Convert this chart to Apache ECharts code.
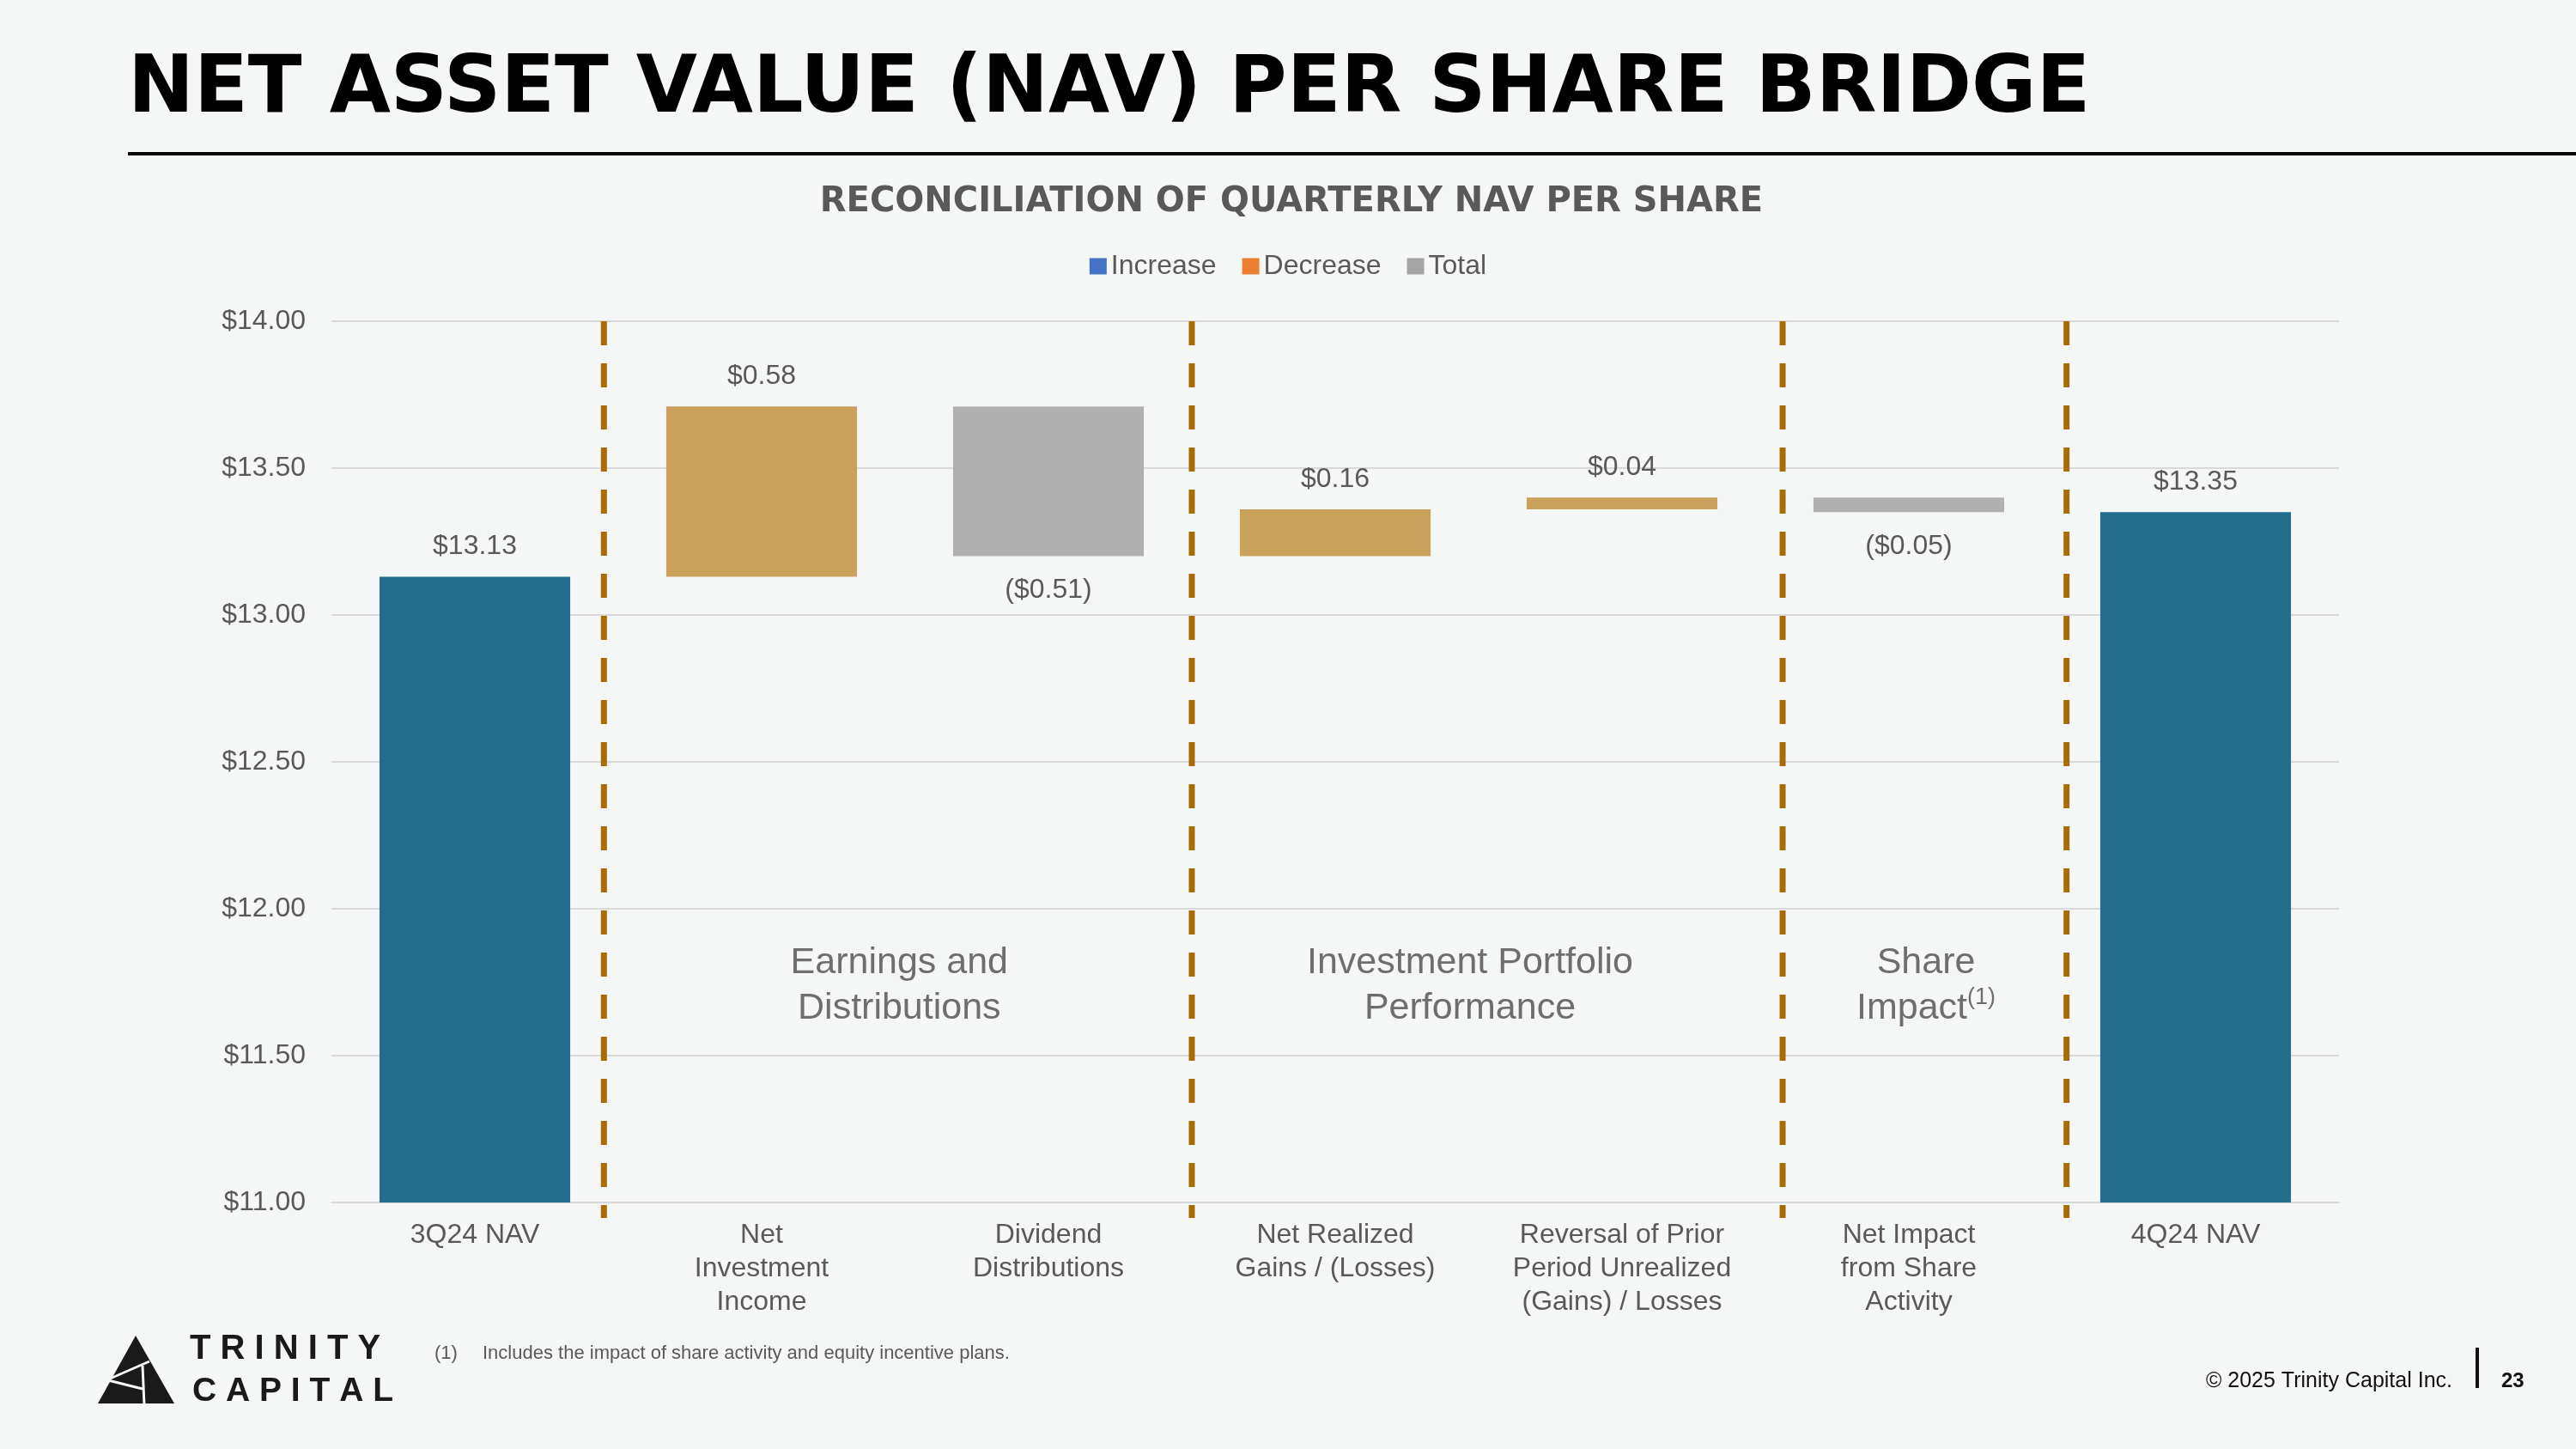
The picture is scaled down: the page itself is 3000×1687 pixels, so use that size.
<!DOCTYPE html>
<html>
<head>
<meta charset="utf-8">
<script src="https://cdn.jsdelivr.net/npm/echarts@6.0.0/dist/echarts.min.js"></script>
<style>
html,body{margin:0;padding:0;background:#f5f6f6;}
#chart{width:3000px;height:1687px;}
</style>
</head>
<body>
<div id="chart"></div>
<script>
// ---- data ----
const categories = ['3Q24 NAV', 'Net\nInvestment\nIncome', 'Dividend\nDistributions', 'Net Realized\nGains / (Losses)', 'Reversal of Prior\nPeriod Unrealized\n(Gains) / Losses', 'Net Impact\nfrom Share\nActivity', '4Q24 NAV'];
const increaseValues = [null, 0.58, null, 0.16, 0.04, null, null];
const decreaseValues = [null, null, 0.51, null, null, 0.05, null];
const totalValues = [13.13, null, null, null, null, null, 13.35];
const yTicks = [11.0, 11.5, 12.0, 12.5, 13.0, 13.5, 14.0];
const separators = [0.95, 3.0, 5.06, 6.05];
const groupLabels = ['Earnings and\nDistributions', 'Investment Portfolio\nPerformance', 'Share\nImpact{sup|(1)}'];
const groupAnchors = [1.98, 3.97, 5.56];

// ---- derived waterfall base ----
const baseValues = [];
let running = 0;
for (let i = 0; i < categories.length; i++) {
  if (totalValues[i] != null) { baseValues.push(0); running = totalValues[i]; }
  else if (increaseValues[i] != null) { baseValues.push(running); running += increaseValues[i]; }
  else { running -= decreaseValues[i]; baseValues.push(running); }
}
const dash = v => (v == null ? '-' : v);

const Y_MIN = yTicks[0], Y_MAX = yTicks[yTicks.length - 1];
const GROUP_Y = 11.738;
const FONT = '"Liberation Sans", Arial, sans-serif';
const GOLD = '#c9a15b', GRAY = '#b0b0b0', BLUE = '#236e8c', SEP = '#a86c05', TXT = '#595959';

const chart = echarts.init(document.getElementById('chart'), null, {renderer: 'canvas'});
chart.setOption({
  backgroundColor: '#f5f6f6',
  animation: false,
  textStyle: {fontFamily: FONT},
  grid: {left: 386, right: 276, top: 374, bottom: 287, containLabel: false},
  legend: {
    top: 289, left: 'center',
    icon: 'rect', itemWidth: 20, itemHeight: 19, itemGap: 30,
    selectedMode: false,
    textStyle: {fontSize: 32, color: TXT, fontFamily: FONT},
    data: [
      {name: 'Increase', itemStyle: {color: '#4472c4'}},
      {name: 'Decrease', itemStyle: {color: '#ed7d31'}},
      {name: 'Total', itemStyle: {color: '#a5a5a5'}}
    ]
  },
  xAxis: [{
    type: 'category', data: categories,
    axisLine: {lineStyle: {color: '#d9d9d9', width: 2}},
    axisTick: {show: false},
    axisLabel: {interval: 0, fontSize: 32, lineHeight: 39, color: TXT, margin: 19, fontFamily: FONT}
  }, {
    type: 'value', min: 0, max: categories.length, show: false
  }],
  yAxis: {
    type: 'value', min: Y_MIN, max: Y_MAX, interval: 0.5,
    axisLine: {show: false}, axisTick: {show: false},
    splitLine: {lineStyle: {color: '#d9d9d9', width: 2}},
    axisLabel: {fontSize: 32, color: TXT, margin: 30, fontFamily: FONT, formatter: v => '$' + v.toFixed(2)}
  },
  series: [
    {
      name: 'base', type: 'bar', stack: 'w', barWidth: '66.5%', silent: true,
      itemStyle: {color: 'transparent'}, data: baseValues
    },
    {
      name: 'Increase', type: 'bar', stack: 'w', barWidth: '66.5%',
      itemStyle: {color: GOLD}, data: increaseValues.map(dash),
      label: {show: true, position: 'top', distance: 19, fontSize: 32, color: TXT, fontFamily: FONT,
        formatter: p => '$' + Number(p.value).toFixed(2)}
    },
    {
      name: 'Decrease', type: 'bar', stack: 'w', barWidth: '66.5%',
      itemStyle: {color: GRAY}, data: decreaseValues.map(dash),
      label: {show: true, position: 'bottom', distance: 24, fontSize: 32, color: TXT, fontFamily: FONT,
        formatter: p => '($' + Number(p.value).toFixed(2) + ')'}
    },
    {
      name: 'Total', type: 'bar', stack: 'w', barWidth: '66.5%',
      itemStyle: {color: BLUE}, data: totalValues.map(dash),
      label: {show: true, position: 'top', distance: 19, fontSize: 32, color: TXT, fontFamily: FONT,
        formatter: p => '$' + Number(p.value).toFixed(2)}
    },
    {
      name: 'separators', type: 'custom', xAxisIndex: 1, yAxisIndex: 0, clip: false, silent: true, z: 5,
      data: separators.map(s => [s, Y_MAX]),
      encode: {x: 0, y: 1},
      renderItem: (params, api) => {
        const x = api.value(0);
        const top = api.coord([x, Y_MAX]);
        const bot = api.coord([x, Y_MIN]);
        return {type: 'line', shape: {x1: top[0], y1: top[1], x2: bot[0], y2: bot[1] + 18},
          style: {stroke: SEP, lineWidth: 7, lineDash: [28, 21]}};
      }
    },
    {
      name: 'groups', type: 'custom', xAxisIndex: 1, yAxisIndex: 0, clip: false, silent: true, z: 5,
      data: groupAnchors.map(g => [g, GROUP_Y]),
      encode: {x: 0, y: 1},
      renderItem: (params, api) => {
        const pt = api.coord([api.value(0), api.value(1)]);
        return {type: 'text', x: pt[0], y: pt[1],
          style: {text: groupLabels[params.dataIndex], fill: '#6e6e6e', fontSize: 43, fontFamily: FONT,
            lineHeight: 53, align: 'center', verticalAlign: 'middle',
            rich: {sup: {fontSize: 27, fontFamily: FONT, fill: '#6e6e6e', verticalAlign: 'top', lineHeight: 53, padding: [0, 0, 18, 0]}}}};
      }
    }
  ],
  graphic: [
    {type: 'text', x: 149, y: 106, style: {text: 'NET ASSET VALUE (NAV) PER SHARE BRIDGE', fill: '#000',
      font: 'bold 92px "DejaVu Sans", sans-serif', align: 'left', verticalAlign: 'middle'}},
    {type: 'rect', shape: {x: 149, y: 177, width: 2851, height: 4}, style: {fill: '#000'}},
    {type: 'text', x: 1504, y: 236, style: {text: 'RECONCILIATION OF QUARTERLY NAV PER SHARE', fill: TXT,
      font: 'bold 40px "DejaVu Sans", sans-serif', align: 'center', verticalAlign: 'middle'}},
    // logo
    {type: 'polygon', shape: {points: [[158, 1555], [114, 1634], [203, 1634]]}, style: {fill: '#1a1a1a'}},
    {type: 'polyline', shape: {points: [[174, 1585], [126, 1606]]}, style: {stroke: '#f5f6f6', lineWidth: 3}},
    {type: 'polyline', shape: {points: [[166, 1590], [168, 1636]]}, style: {stroke: '#f5f6f6', lineWidth: 3}},
    {type: 'polyline', shape: {points: [[122, 1606], [166, 1617]]}, style: {stroke: '#f5f6f6', lineWidth: 3}},
    {type: 'text', x: 221, y: 1571, style: {text: 'T R I N I T Y', fill: '#1a1a1a',
      font: 'bold 40px "Liberation Sans", Arial, sans-serif', align: 'left', verticalAlign: 'middle'}},
    {type: 'text', x: 224, y: 1620, style: {text: 'C A P I T A L', fill: '#1a1a1a',
      font: 'bold 39px "Liberation Sans", Arial, sans-serif', align: 'left', verticalAlign: 'middle'}},
    // footnote
    {type: 'text', x: 506, y: 1576, style: {text: '(1)', fill: TXT, font: '22px "Liberation Sans", Arial, sans-serif',
      align: 'left', verticalAlign: 'middle'}},
    {type: 'text', x: 562, y: 1576, style: {text: 'Includes the impact of share activity and equity incentive plans.', fill: TXT,
      font: '22px "Liberation Sans", Arial, sans-serif', align: 'left', verticalAlign: 'middle'}},
    // footer
    {type: 'text', x: 2856, y: 1608, style: {text: '\u00a9 2025 Trinity Capital Inc.', fill: '#111',
      font: '25px "Liberation Sans", Arial, sans-serif', align: 'right', verticalAlign: 'middle'}},
    {type: 'rect', shape: {x: 2883, y: 1569, width: 4, height: 47}, style: {fill: '#111'}},
    {type: 'text', x: 2913, y: 1608, style: {text: '23', fill: '#111',
      font: 'bold 24px "Liberation Sans", Arial, sans-serif', align: 'left', verticalAlign: 'middle'}}
  ]
});
</script>
</body>
</html>
